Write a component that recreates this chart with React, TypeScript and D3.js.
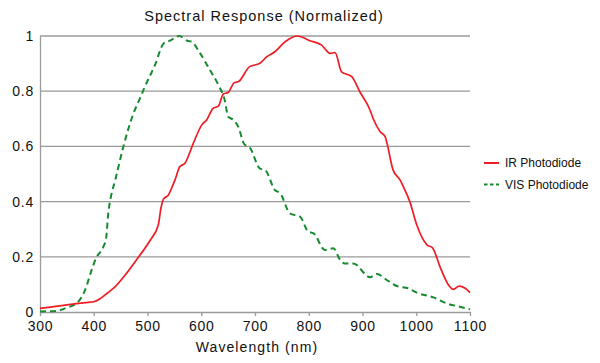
import React, { useEffect, useRef } from 'react';
import * as d3 from 'd3';

// wavelength (nm) / normalized response
const irWave = [300, 350, 390, 400, 411, 425, 440, 461, 483, 505, 520, 525, 530, 539, 545, 551, 560, 570, 585, 601, 610, 622, 632, 641, 650, 661, 670, 690, 709, 722, 737, 756, 779, 802, 824, 840, 849, 861, 880, 895, 914, 920, 933, 942, 957, 970, 976, 988, 1001, 1020, 1030, 1045, 1060, 1069, 1080, 1091, 1100];
const irValues = [0.013, 0.026, 0.035, 0.037, 0.047, 0.068, 0.092, 0.14, 0.198, 0.26, 0.315, 0.376, 0.41, 0.424, 0.45, 0.478, 0.526, 0.54, 0.61, 0.678, 0.696, 0.738, 0.746, 0.79, 0.795, 0.83, 0.836, 0.889, 0.901, 0.925, 0.943, 0.979, 1.0, 0.983, 0.967, 0.937, 0.94, 0.87, 0.853, 0.798, 0.732, 0.7, 0.653, 0.635, 0.514, 0.478, 0.454, 0.4, 0.315, 0.243, 0.233, 0.16, 0.098, 0.082, 0.094, 0.086, 0.07];

const visWave = [300, 331, 350, 368, 384, 396, 404, 418, 423, 427, 432, 440, 455, 474, 486, 495, 514, 530, 542, 559, 574, 582, 598, 616, 632, 644, 650, 660, 669, 680, 690, 709, 719, 737, 747, 765, 784, 799, 809, 830, 846, 858, 867, 883, 914, 927, 945, 964, 985, 1001, 1032, 1057, 1081, 1100];
const visValues = [0.002, 0.004, 0.016, 0.031, 0.08, 0.152, 0.194, 0.237, 0.267, 0.357, 0.418, 0.478, 0.599, 0.72, 0.774, 0.816, 0.895, 0.973, 0.983, 1.0, 0.983, 0.979, 0.937, 0.877, 0.822, 0.765, 0.708, 0.696, 0.671, 0.608, 0.597, 0.52, 0.514, 0.442, 0.43, 0.357, 0.345, 0.291, 0.285, 0.225, 0.231, 0.19, 0.176, 0.176, 0.126, 0.138, 0.116, 0.094, 0.086, 0.07, 0.053, 0.031, 0.019, 0.01];

const xTicks = [300, 400, 500, 600, 700, 800, 900, 1000, 1100];
const yTicks = [0, 0.2, 0.4, 0.6, 0.8, 1];
const seriesNames = ['IR Photodiode', 'VIS Photodiode'];

const RED = '#ee1d25';
const GREEN = '#168a2f';
const FONT = '"Liberation Sans", Arial, Helvetica, sans-serif';

const App = () => {
    const svgRef = useRef(null);

    useEffect(() => {
        const svg = d3.select(svgRef.current);
        svg.selectAll('*').remove();

        const width = 600;
        const height = 363;
        const margin = { top: 36, right: 130, bottom: 51, left: 40 };

        const x = d3.scaleLinear().domain([300, 1100]).range([margin.left, width - margin.right]);
        const y = d3.scaleLinear().domain([0, 1]).range([height - margin.bottom, margin.top]);

        // title
        svg.append('text')
            .attr('x', 264)
            .attr('y', 21)
            .attr('text-anchor', 'middle')
            .attr('font-size', 14.5)
            .attr('letter-spacing', 1)
            .attr('fill', '#111')
            .text('Spectral Response (Normalized)');

        // grid lines
        svg.append('g')
            .selectAll('line')
            .data(yTicks.filter(d => d > 0))
            .join('line')
            .attr('x1', x(300))
            .attr('x2', x(1100))
            .attr('y1', d => y(d))
            .attr('y2', d => y(d))
            .attr('stroke', '#9a9a9a')
            .attr('stroke-width', 1.3);

        // y axis
        const yAxis = svg.append('g')
            .attr('transform', `translate(${x(300)},0)`)
            .call(d3.axisLeft(y).tickValues(yTicks).tickSize(0).tickPadding(6).tickFormat(d3.format('~g')));
        yAxis.select('.domain').attr('stroke', '#9a9a9a').attr('stroke-width', 1.3);
        yAxis.selectAll('text')
            .attr('font-size', 14)
            .attr('font-family', FONT)
            .attr('letter-spacing', 0.8)
            .attr('fill', '#111');

        // x axis
        const xAxis = svg.append('g')
            .attr('transform', `translate(0,${y(0)})`)
            .call(d3.axisBottom(x).tickValues(xTicks).tickSize(4).tickSizeOuter(0).tickPadding(5).tickFormat(d3.format('d')));
        xAxis.select('.domain').attr('stroke', '#9a9a9a').attr('stroke-width', 1.3);
        xAxis.selectAll('line').attr('stroke', '#9a9a9a').attr('stroke-width', 1.3);
        xAxis.selectAll('text')
            .attr('font-size', 14)
            .attr('font-family', FONT)
            .attr('letter-spacing', 0.8)
            .attr('fill', '#111');

        svg.append('text')
            .attr('x', 257)
            .attr('y', 352)
            .attr('text-anchor', 'middle')
            .attr('font-size', 14)
            .attr('letter-spacing', 1.1)
            .attr('fill', '#111')
            .text('Wavelength (nm)');

        const line = d3.line()
            .x(d => x(d[0]))
            .y(d => y(d[1]))
            .curve(d3.curveMonotoneX);

        const irData = irWave.map((w, i) => [w, irValues[i]]);
        const visData = visWave.map((w, i) => [w, visValues[i]]);

        svg.append('path')
            .datum(visData)
            .attr('d', line)
            .attr('fill', 'none')
            .attr('stroke', GREEN)
            .attr('stroke-width', 2)
            .attr('stroke-dasharray', '6,4');

        svg.append('path')
            .datum(irData)
            .attr('d', line)
            .attr('fill', 'none')
            .attr('stroke', RED)
            .attr('stroke-width', 1.7);

        // legend
        const legend = svg.append('g').attr('transform', 'translate(484,163)');
        const items = legend.selectAll('g')
            .data(seriesNames)
            .join('g')
            .attr('transform', (d, i) => `translate(0,${i * 21.5})`);
        items.append('line')
            .attr('x1', 0)
            .attr('x2', 15)
            .attr('stroke', (d, i) => (i === 0 ? RED : GREEN))
            .attr('stroke-width', 2)
            .attr('stroke-dasharray', (d, i) => (i === 0 ? null : '3.5,2.5'));
        items.append('text')
            .attr('x', 21)
            .attr('y', 4)
            .attr('font-size', 12)
            .attr('fill', '#111')
            .text(d => d);
    }, []);

    return (
        <svg
            ref={svgRef}
            width={600}
            height={363}
            style={{ position: 'absolute', left: 0, top: 0, background: '#fff', fontFamily: FONT }}
        ></svg>
    );
};

export default App;
